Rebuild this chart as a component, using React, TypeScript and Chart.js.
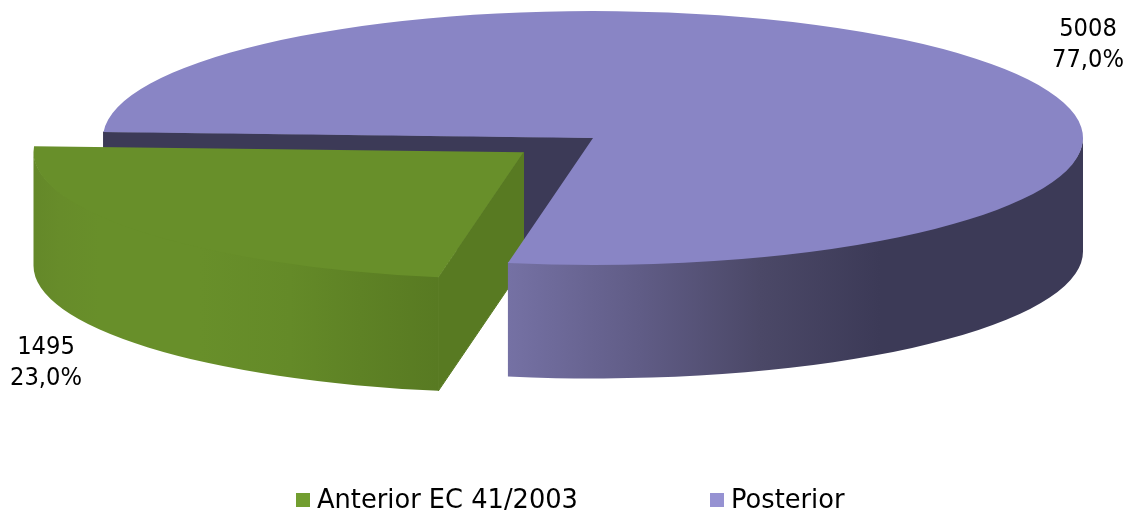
import React, { useEffect, useRef } from "react";
import { Chart, registerables } from "chart.js";

Chart.register(...registerables);

const categories = ["Anterior EC 41/2003", "Posterior"];
const values = [1495, 5008];
const topColors = ["#688f2a", "#8985c5"];
const legendColors = ["#729e30", "#9692d2"];
const cutColors = ["#587a22", "#3c3a57"];
const sideStops: [number, string][][] = [
  [[33, "#648829"], [60, "#678c2a"], [100, "#688f2a"], [200, "#688f2a"], [290, "#648a28"], [360, "#5e8225"], [438, "#587a22"]],
  [[508, "#7571a4"], [640, "#605c86"], [760, "#4b4867"], [880, "#3c3a57"], [1083, "#3c3a57"]],
];
const labelAnchors = [[46, 347.5], [1088, 29.5]];
const legendAnchors = [[296, 501], [710, 501]];

const LABEL_FONT = '25.2px "DejaVu Sans Condensed", "DejaVu Sans", sans-serif';
const LEGEND_FONT = '25.7px "DejaVu Sans", sans-serif';
const PIE = { cx: 593, cy: 138, rx: 490, ry: 127, depth: 113.5, explodeX: -69.5, explodeY: 14.3 };

const pie3d = {
  id: "pie3d",
  beforeDatasetsDraw(chart: any) {
    const ctx = chart.ctx as CanvasRenderingContext2D;
    const arcs = chart.getDatasetMeta(0).data;
    const { cx, cy, rx, ry, depth, explodeX, explodeY } = PIE;
    const pt = (x: number, y: number, a: number) => [x + rx * Math.cos(a), y + ry * Math.sin(a)];

    const side = (i: number, x: number, y: number) => {
      const arc = arcs[i];
      const twoPi = Math.PI * 2;
      let a = arc.startAngle;
      let b = arc.endAngle;
      // keep only the lower half of the ellipse, which faces the viewer
      const k = Math.floor(a / twoPi);
      a -= k * twoPi;
      b -= k * twoPi;
      const ranges: [number, number][] = [];
      if (a < Math.PI) ranges.push([a, Math.min(b, Math.PI)]);
      if (b > twoPi) ranges.push([twoPi, Math.min(b, twoPi + Math.PI)]);
      const stops = sideStops[i];
      const g = ctx.createLinearGradient(stops[0][0], 0, stops[stops.length - 1][0], 0);
      const span = stops[stops.length - 1][0] - stops[0][0];
      stops.forEach(([sx, c]) => g.addColorStop((sx - stops[0][0]) / span, c));
      ctx.fillStyle = g;
      ranges.forEach(([s, e]) => {
        ctx.beginPath();
        // start one pixel higher so the face slips under the top and no seam shows
        ctx.ellipse(x, y - 1, rx, ry, 0, s, e);
        ctx.ellipse(x, y + depth, rx, ry, 0, e, s, true);
        ctx.closePath();
        ctx.fill();
      });
    };

    const cut = (i: number, x: number, y: number, a: number) => {
      const p = pt(x, y, a);
      ctx.fillStyle = cutColors[i];
      ctx.strokeStyle = cutColors[i];
      ctx.lineWidth = 1;
      ctx.beginPath();
      ctx.moveTo(x, y);
      ctx.lineTo(p[0], p[1]);
      ctx.lineTo(p[0], p[1] + depth);
      ctx.lineTo(x, y + depth);
      ctx.closePath();
      ctx.fill();
      ctx.stroke();
    };

    const top = (i: number, x: number, y: number) => {
      const arc = arcs[i];
      const R = arc.outerRadius;
      ctx.save();
      ctx.translate(x, y);
      ctx.scale(rx / R, ry / R);
      ctx.translate(-arc.x, -arc.y);
      arc.draw(ctx);
      ctx.restore();
    };

    const gx = cx + explodeX;
    const gy = cy + explodeY;
    // back to front
    cut(1, cx, cy, arcs[1].startAngle);
    cut(0, gx, gy, arcs[0].startAngle);
    side(0, gx, gy);
    top(0, gx, gy);
    side(1, cx, cy);
    top(1, cx, cy);

    // value labels
    const total = values.reduce((s, v) => s + v, 0);
    ctx.fillStyle = "#000";
    ctx.font = LABEL_FONT;
    ctx.textAlign = "center";
    ctx.textBaseline = "middle";
    values.forEach((v, i) => {
      const [lx, ly] = labelAnchors[i];
      ctx.fillText(String(v), lx, ly);
      ctx.fillText(((v / total) * 100).toFixed(1).replace(".", ",") + "%", lx, ly + 30.5);
    });

    // legend
    ctx.font = LEGEND_FONT;
    ctx.textAlign = "left";
    categories.forEach((c, i) => {
      const [lx, ly] = legendAnchors[i];
      ctx.fillStyle = legendColors[i];
      ctx.fillRect(lx, ly - 8, 14, 14);
      ctx.fillStyle = "#000";
      ctx.fillText(c, lx + 21, ly);
    });
    return false;
  },
};

export default function App() {
  const ref = useRef<HTMLCanvasElement>(null);
  useEffect(() => {
    document.body.style.margin = "0";
    const chart = new Chart(ref.current!, {
      type: "pie",
      data: {
        labels: categories,
        datasets: [{ data: values, backgroundColor: topColors, borderWidth: 0 }],
      },
      options: {
        responsive: false,
        animation: false,
        rotation: 190,
        plugins: { legend: { display: false }, tooltip: { enabled: false } },
      },
      plugins: [pie3d],
    } as any);
    return () => chart.destroy();
  }, []);
  return <canvas ref={ref} width={1126} height={514} style={{ display: "block" }} />;
}
